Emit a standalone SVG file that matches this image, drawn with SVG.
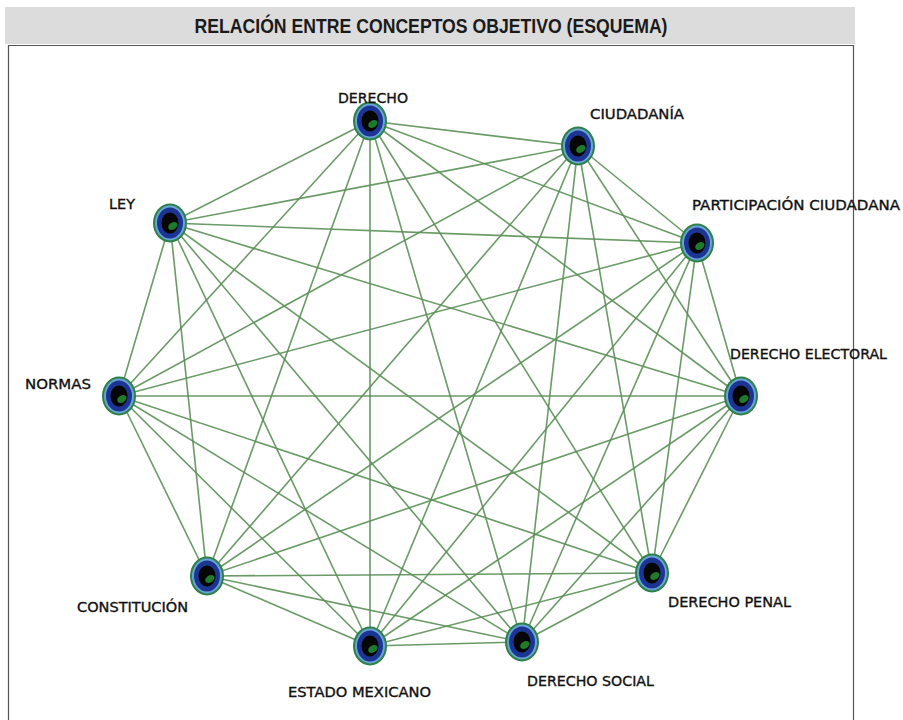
<svg xmlns="http://www.w3.org/2000/svg" xmlns:xlink="http://www.w3.org/1999/xlink" width="903" height="720" viewBox="0 0 903 720">
<style>
.e{stroke:#5a8f55;stroke-width:1.6;stroke-opacity:0.9;fill:none}
.lb{font-family:"DejaVu Sans",sans-serif;font-size:14px;fill:#111;stroke:#111;stroke-width:0.35}
.title{font-family:"Liberation Sans",sans-serif;font-weight:bold;font-size:20px;fill:#1a1a1a}
</style>
<defs>
<g id="dot">
<ellipse rx="17" ry="19.5" fill="#2c8048"/>
<ellipse rx="15" ry="17.5" fill="#6aa3d6"/>
<ellipse rx="13" ry="15.5" fill="#1c3592"/>
<ellipse rx="8.5" ry="10.5" fill="#060606"/>
<ellipse cx="1" cy="4" rx="5" ry="3.5" fill="#1f7a2c" transform="rotate(-30)"/>
</g>
</defs>
<rect width="903" height="720" fill="#fff"/>
<rect x="5" y="7" width="850" height="37" fill="#dcdcdc"/>
<text class="title" x="431" y="33" text-anchor="middle" textLength="473" lengthAdjust="spacingAndGlyphs">RELACIÓN ENTRE CONCEPTOS OBJETIVO (ESQUEMA)</text>
<path d="M8.5 722 V45.5 H853.5 V722" fill="none" stroke="#555" stroke-width="1.2"/>
<g id="connectors">
<line class="e" x1="370" y1="121" x2="578" y2="146"/>
<line class="e" x1="370" y1="121" x2="697" y2="243"/>
<line class="e" x1="370" y1="121" x2="741" y2="396"/>
<line class="e" x1="370" y1="121" x2="652" y2="573"/>
<line class="e" x1="370" y1="121" x2="522" y2="642"/>
<line class="e" x1="370" y1="121" x2="370" y2="646"/>
<line class="e" x1="370" y1="121" x2="207" y2="576"/>
<line class="e" x1="370" y1="121" x2="119" y2="396"/>
<line class="e" x1="370" y1="121" x2="170" y2="223"/>
<line class="e" x1="578" y1="146" x2="697" y2="243"/>
<line class="e" x1="578" y1="146" x2="741" y2="396"/>
<line class="e" x1="578" y1="146" x2="652" y2="573"/>
<line class="e" x1="578" y1="146" x2="522" y2="642"/>
<line class="e" x1="578" y1="146" x2="370" y2="646"/>
<line class="e" x1="578" y1="146" x2="207" y2="576"/>
<line class="e" x1="578" y1="146" x2="119" y2="396"/>
<line class="e" x1="578" y1="146" x2="170" y2="223"/>
<line class="e" x1="697" y1="243" x2="741" y2="396"/>
<line class="e" x1="697" y1="243" x2="652" y2="573"/>
<line class="e" x1="697" y1="243" x2="522" y2="642"/>
<line class="e" x1="697" y1="243" x2="370" y2="646"/>
<line class="e" x1="697" y1="243" x2="207" y2="576"/>
<line class="e" x1="697" y1="243" x2="119" y2="396"/>
<line class="e" x1="697" y1="243" x2="170" y2="223"/>
<line class="e" x1="741" y1="396" x2="652" y2="573"/>
<line class="e" x1="741" y1="396" x2="522" y2="642"/>
<line class="e" x1="741" y1="396" x2="370" y2="646"/>
<line class="e" x1="741" y1="396" x2="207" y2="576"/>
<line class="e" x1="741" y1="396" x2="119" y2="396"/>
<line class="e" x1="741" y1="396" x2="170" y2="223"/>
<line class="e" x1="652" y1="573" x2="522" y2="642"/>
<line class="e" x1="652" y1="573" x2="370" y2="646"/>
<line class="e" x1="652" y1="573" x2="207" y2="576"/>
<line class="e" x1="652" y1="573" x2="119" y2="396"/>
<line class="e" x1="652" y1="573" x2="170" y2="223"/>
<line class="e" x1="522" y1="642" x2="370" y2="646"/>
<line class="e" x1="522" y1="642" x2="207" y2="576"/>
<line class="e" x1="522" y1="642" x2="119" y2="396"/>
<line class="e" x1="522" y1="642" x2="170" y2="223"/>
<line class="e" x1="370" y1="646" x2="207" y2="576"/>
<line class="e" x1="370" y1="646" x2="119" y2="396"/>
<line class="e" x1="370" y1="646" x2="170" y2="223"/>
<line class="e" x1="207" y1="576" x2="119" y2="396"/>
<line class="e" x1="207" y1="576" x2="170" y2="223"/>
<line class="e" x1="119" y1="396" x2="170" y2="223"/>
</g>
<g id="node-derecho"><use xlink:href="#dot" href="#dot" x="370" y="121"/><text class="lb" x="338" y="103" textLength="70" lengthAdjust="spacingAndGlyphs">DERECHO</text></g>
<g id="node-ciudadania"><use xlink:href="#dot" href="#dot" x="578" y="146"/><text class="lb" x="590" y="119" textLength="94" lengthAdjust="spacingAndGlyphs">CIUDADANÍA</text></g>
<g id="node-participacion"><use xlink:href="#dot" href="#dot" x="697" y="243"/><text class="lb" x="692" y="210" textLength="208" lengthAdjust="spacingAndGlyphs">PARTICIPACIÓN CIUDADANA</text></g>
<g id="node-electoral"><use xlink:href="#dot" href="#dot" x="741" y="396"/><text class="lb" x="730" y="359" textLength="157" lengthAdjust="spacingAndGlyphs">DERECHO ELECTORAL</text></g>
<g id="node-penal"><use xlink:href="#dot" href="#dot" x="652" y="573"/><text class="lb" x="668" y="607" textLength="123" lengthAdjust="spacingAndGlyphs">DERECHO PENAL</text></g>
<g id="node-social"><use xlink:href="#dot" href="#dot" x="522" y="642"/><text class="lb" x="527" y="686" textLength="127" lengthAdjust="spacingAndGlyphs">DERECHO SOCIAL</text></g>
<g id="node-estado"><use xlink:href="#dot" href="#dot" x="370" y="646"/><text class="lb" x="288" y="697" textLength="143" lengthAdjust="spacingAndGlyphs">ESTADO MEXICANO</text></g>
<g id="node-constitucion"><use xlink:href="#dot" href="#dot" x="207" y="576"/><text class="lb" x="77" y="612" textLength="111" lengthAdjust="spacingAndGlyphs">CONSTITUCIÓN</text></g>
<g id="node-normas"><use xlink:href="#dot" href="#dot" x="119" y="396"/><text class="lb" x="25" y="389" textLength="66" lengthAdjust="spacingAndGlyphs">NORMAS</text></g>
<g id="node-ley"><use xlink:href="#dot" href="#dot" x="170" y="223"/><text class="lb" x="109" y="209" textLength="26" lengthAdjust="spacingAndGlyphs">LEY</text></g>
</svg>
